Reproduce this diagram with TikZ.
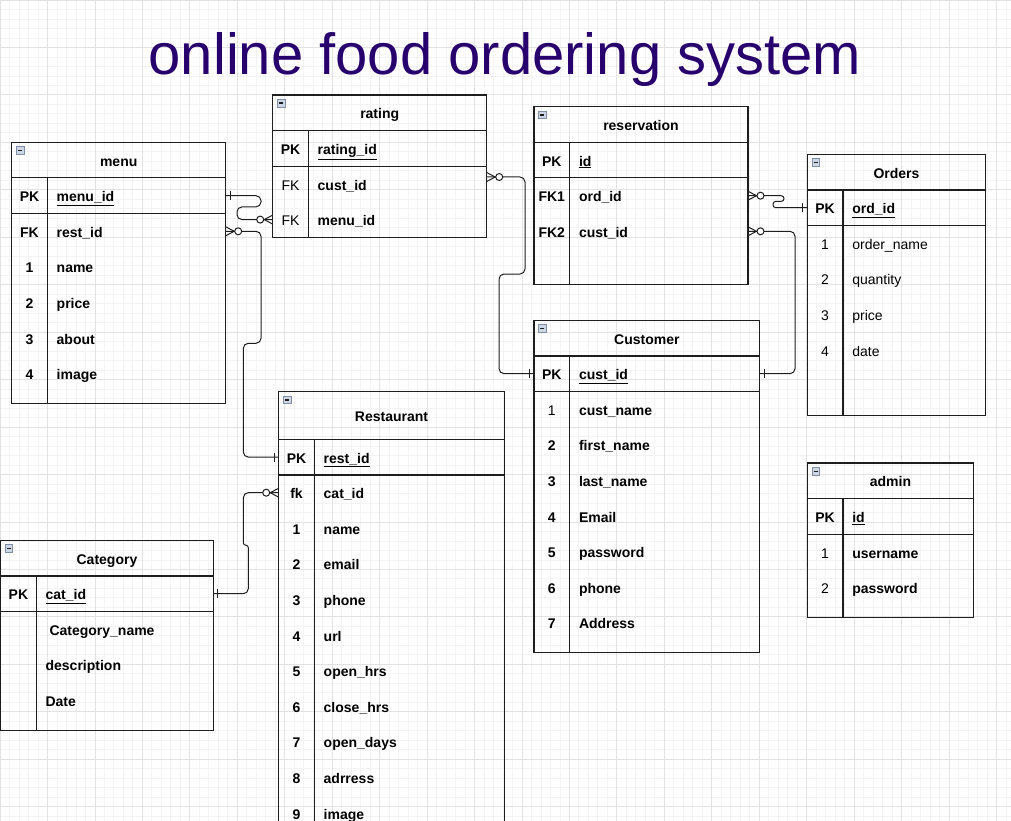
\documentclass[tikz,border=0pt]{standalone}
\usepackage{fontspec}
\setmainfont{Liberation Sans}
\usetikzlibrary{matrix,positioning}

\definecolor{titlecol}{RGB}{40,0,110}
\definecolor{gridmin}{RGB}{243,243,243}
\definecolor{gridmaj}{RGB}{226,226,226}
\definecolor{iconfill}{RGB}{205,214,228}
\definecolor{iconline}{RGB}{128,142,166}
\definecolor{ink}{RGB}{30,30,30}

\tikzset{
  cell/.style={inner sep=0pt, outer sep=0pt, minimum height=35.6pt, text height=12pt,
    text depth=0pt, font=\fontsize{14}{17}\selectfont\bfseries},
  reg/.style={font=\fontsize{14}{17}\selectfont},
  pad/.style={minimum height=#1, text height=0pt, text depth=0pt},
  tbl/.style={matrix of nodes, nodes in empty cells, inner sep=0pt, outer sep=0pt,
    row sep=0pt, column sep=0pt, nodes={cell},
    column 1/.style={nodes={text width=35.6pt, align=center}},
    column 2/.style={nodes={text width=#1, align=left, inner xsep=9.4pt}}},
  header/.style={draw=ink, line width=1.2pt, anchor=north west, inner sep=0pt,
    outer sep=0pt, minimum width=#1, minimum height=35.6pt, text height=12pt,
    text depth=0pt, font=\fontsize{14}{17}\selectfont\bfseries,
    path picture={
      \draw[fill=iconfill, draw=iconline, line width=0.7pt]
        ([shift={(4.6pt,-4.4pt)}]path picture bounding box.north west) rectangle ++(7.6,7.6);
      \draw[line width=1.4pt]
        ([shift={(6.4pt,-8.2pt)}]path picture bounding box.north west) -- ++(4,0);
    }},
  title/.style={font=\fontsize{58}{70}\selectfont, text=titlecol, anchor=base, inner sep=0pt},
  tline/.style={draw=ink, line width=1.2pt},
  rel/.style={draw=ink, line width=1pt, rounded corners=5pt},
  relmark/.style={draw=ink, line width=1pt},
  crowfoot/.pic={
    \draw (0,-4.5) -- (8.5,0) -- (0,4.5);
    \draw[fill=white] (12.5,0) circle[radius=3.5pt];
  },
  onebar/.pic={\draw (4.5,-4.5) -- (4.5,4.5);},
}

\begin{document}
\begin{tikzpicture}[x=1pt,y=-1pt]
    \useasboundingbox (0,0) rectangle (1011,821);
    \draw[gridmin, line width=0.8pt, step=9.49pt] (0pt,-821pt) grid (1011pt,0pt);
    \draw[gridmaj, line width=0.8pt, step=47.45pt] (0pt,-821pt) grid (1011pt,0pt);

    \node[title] (title) at (505,75) {online food ordering system};

    \node[header=214pt] (menu-head) at (11.7,142.3) {menu};
    \matrix (menu) [tbl=159.6pt, below right=0pt of menu-head.south west] {
      PK & \underline{menu\_id} \\
      FK & rest\_id \\
      1  & name \\
      2  & price \\
      3  & about \\
      4  & image \\
      |[pad=11.8pt]| & |[pad=11.8pt]| \\
    };
    \draw[tline] (menu.north west) rectangle (menu.south east);
    \draw[tline] (menu-1-1.south west) -- (menu-1-2.south east);
    \draw[tline] (menu-1-2.north west) -- (menu-1-2.north west |- menu.south);

    \node[header=214pt] (rating-head) at (272.7,95) {rating};
    \matrix (rating) [tbl=159.6pt, below right=0pt of rating-head.south west] {
      PK & \underline{rating\_id} \\
      |[reg]| FK & cust\_id \\
      |[reg]| FK & menu\_id \\
    };
    \draw[tline] (rating.north west) rectangle (rating.south east);
    \draw[tline] (rating-1-1.south west) -- (rating-1-2.south east);
    \draw[tline] (rating-1-2.north west) -- (rating-1-2.north west |- rating.south);

    \node[header=214pt] (res-head) at (534,106.7) {reservation};
    \matrix (res) [tbl=159.6pt, below right=0pt of res-head.south west] {
      PK  & \underline{id} \\
      FK1 & ord\_id \\
      FK2 & cust\_id \\
          & \\
    };
    \draw[tline] (res.north west) rectangle (res.south east);
    \draw[tline] (res-1-1.south west) -- (res-1-2.south east);
    \draw[tline] (res-1-2.north west) -- (res-1-2.north west |- res.south);

    \node[header=178.4pt] (ord-head) at (807.3,154.3) {Orders};
    \matrix (ord) [tbl=124pt, below right=0pt of ord-head.south west] {
      PK & \underline{ord\_id} \\
      |[reg]| 1 & |[reg]| order\_name \\
      |[reg]| 2 & |[reg]| quantity \\
      |[reg]| 3 & |[reg]| price \\
      |[reg]| 4 & |[reg]| date \\
         & \\
      |[pad=11.8pt]| & |[pad=11.8pt]| \\
    };
    \draw[tline] (ord.north west) rectangle (ord.south east);
    \draw[tline] (ord-1-1.south west) -- (ord-1-2.south east);
    \draw[tline] (ord-1-2.north west) -- (ord-1-2.north west |- ord.south);

    \node[header=225.7pt] (cust-head) at (534,320.3) {Customer};
    \matrix (cust) [tbl=171.3pt, below right=0pt of cust-head.south west] {
      PK & \underline{cust\_id} \\
      |[reg]| 1 & cust\_name \\
      2  & first\_name \\
      3  & last\_name \\
      4  & Email \\
      5  & password \\
      6  & phone \\
      7  & Address \\
      |[pad=11.8pt]| & |[pad=11.8pt]| \\
    };
    \draw[tline] (cust.north west) rectangle (cust.south east);
    \draw[tline] (cust-1-1.south west) -- (cust-1-2.south east);
    \draw[tline] (cust-1-2.north west) -- (cust-1-2.north west |- cust.south);

    \node[header=166.4pt] (admin-head) at (807.3,463) {admin};
    \matrix (admin) [tbl=112pt, below right=0pt of admin-head.south west] {
      PK & \underline{id} \\
      |[reg]| 1 & username \\
      |[reg]| 2 & password \\
      |[pad=11.8pt]| & |[pad=11.8pt]| \\
    };
    \draw[tline] (admin.north west) rectangle (admin.south east);
    \draw[tline] (admin-1-1.south west) -- (admin-1-2.south east);
    \draw[tline] (admin-1-2.north west) -- (admin-1-2.north west |- admin.south);

    \node[header=225.6pt, minimum height=47.6pt] (rest-head) at (278.7,391.7) {Restaurant};
    \matrix (rest) [tbl=171.2pt, below right=0pt of rest-head.south west] {
      PK & \underline{rest\_id} \\
      fk & cat\_id \\
      1  & name \\
      2  & email \\
      3  & phone \\
      4  & url \\
      5  & open\_hrs \\
      6  & close\_hrs \\
      7  & open\_days \\
      8  & adrress \\
      9  & image \\
      |[pad=11.8pt]| & |[pad=11.8pt]| \\
    };
    \draw[tline] (rest.north west) rectangle (rest.south east);
    \draw[tline] (rest-1-1.south west) -- (rest-1-2.south east);
    \draw[tline] (rest-1-2.north west) -- (rest-1-2.north west |- rest.south);

    \node[header=212.7pt] (cat-head) at (0.6,540.3) {Category};
    \matrix (cat) [tbl=158.3pt, below right=0pt of cat-head.south west] {
      PK & \underline{cat\_id} \\
         & \hspace*{3.9pt}Category\_name \\
         & description \\
         & Date \\
      |[pad=11.8pt]| & |[pad=11.8pt]| \\
    };
    \draw[tline] (cat.north west) rectangle (cat.south east);
    \draw[tline] (cat-1-1.south west) -- (cat-1-2.south east);
    \draw[tline] (cat-1-2.north west) -- (cat-1-2.north west |- cat.south);

    \draw[rel] (menu-1-2.east) -- ++(35.3,0) |- ++(-24,11.2) |- (rating-3-1.west);
    \draw[rel] (menu-2-2.east) -- ++(35.3,0) |- ++(-17.7,112) |- (rest-1-1.west);
    \draw[rel] (cat-1-2.east) -- ++(35,0) [rounded corners=2.4pt] |- ++(-5,-48.5)
      [rounded corners=5pt] |- (rest-2-1.west);
    \draw[rel] ([yshift=7pt]rating-2-2.east) -- ++(38.3,0) |- ++(-26,97) |- (cust-1-1.west);
    \draw[rel, rounded corners=2.8pt] (res-2-2.east) -- ++(36,0) |- ++(-11,5.7) |- (ord-1-1.west);
    \draw[rel] (res-3-2.east) -- ++(47,0) |- (cust-1-2.east);

    \pic[relmark] at (menu-1-2.east) {onebar};
    \pic[relmark, rotate=180] at (rating-3-1.west) {crowfoot};
    \pic[relmark] at (menu-2-2.east) {crowfoot};
    \pic[relmark, rotate=180] at (rest-1-1.west) {onebar};
    \pic[relmark] at (cat-1-2.east) {onebar};
    \pic[relmark, rotate=180] at (rest-2-1.west) {crowfoot};
    \pic[relmark] at ([yshift=7pt]rating-2-2.east) {crowfoot};
    \pic[relmark, rotate=180] at (cust-1-1.west) {onebar};
    \pic[relmark] at (res-2-2.east) {crowfoot};
    \pic[relmark, rotate=180] at (ord-1-1.west) {onebar};
    \pic[relmark] at (res-3-2.east) {crowfoot};
    \pic[relmark] at (cust-1-2.east) {onebar};
\end{tikzpicture}
\end{document}
